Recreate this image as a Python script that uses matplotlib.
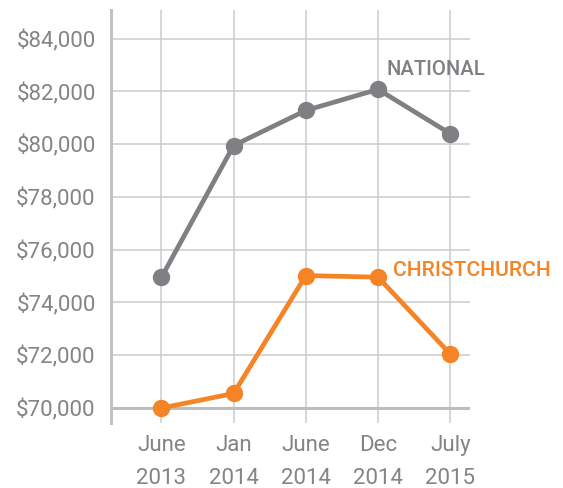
import matplotlib
matplotlib.use("Agg")
import matplotlib.pyplot as plt
from matplotlib.ticker import FuncFormatter

periods = ["June\n2013", "Jan\n2014", "June\n2014", "Dec\n2014", "July\n2015"]
national = [74950, 79950, 81280, 82080, 80400]
christchurch = [70000, 70550, 75020, 74960, 72050]
y_ticks = [70000, 72000, 74000, 76000, 78000, 80000, 82000, 84000]

GRAY = "#808084"
ORANGE = "#F58426"
GRID = "#CBCBCF"
TEXT = "#848488"

plt.rcParams["font.family"] = ["Roboto", "DejaVu Sans"]

fig = plt.figure(figsize=(5.63, 4.88), dpi=100)
ax = fig.add_axes([111 / 563, 1 - 422.7 / 488, 359 / 563, 412.7 / 488])

x = list(range(len(periods)))
ax.set_xlim(-0.698, 4.274)
ax.set_ylim(69443, 85088)

ax.set_yticks(y_ticks)
ax.yaxis.set_major_formatter(FuncFormatter(lambda v, p: f"${v:,.0f}"))
ax.set_xticks(x)
ax.set_xticklabels(periods, linespacing=1.75)

ax.grid(True, color=GRID, linewidth=1.1)
ax.set_axisbelow(True)
ax.axhline(y_ticks[0], color="#BDBDC1", linewidth=2.2, zorder=1)

for s in ["top", "right", "bottom"]:
    ax.spines[s].set_visible(False)
ax.spines["left"].set_color("#C2C2C6")
ax.spines["left"].set_linewidth(2.2)

ax.tick_params(axis="both", length=0, labelsize=16, colors=TEXT)
ax.tick_params(axis="y", pad=11)
ax.tick_params(axis="x", pad=9)

ax.plot(x, national, color=GRAY, linewidth=3.4, marker="o", markersize=11.5,
        clip_on=False, zorder=3, solid_capstyle="round")
ax.plot(x, christchurch, color=ORANGE, linewidth=3.4, marker="o", markersize=11.5,
        clip_on=False, zorder=3, solid_capstyle="round")

ax.annotate("NATIONAL", xy=(x[3], national[3]), xytext=(5.8, 10.3),
            textcoords="offset points", color=GRAY, fontsize=14.6, fontweight="medium",
            va="baseline", ha="left")
ax.annotate("CHRISTCHURCH", xy=(x[3], christchurch[3]), xytext=(10.8, 0.5),
            textcoords="offset points", color=ORANGE, fontsize=15.2, fontweight="medium",
            va="baseline", ha="left")

fig.savefig("out.png", dpi=100)
